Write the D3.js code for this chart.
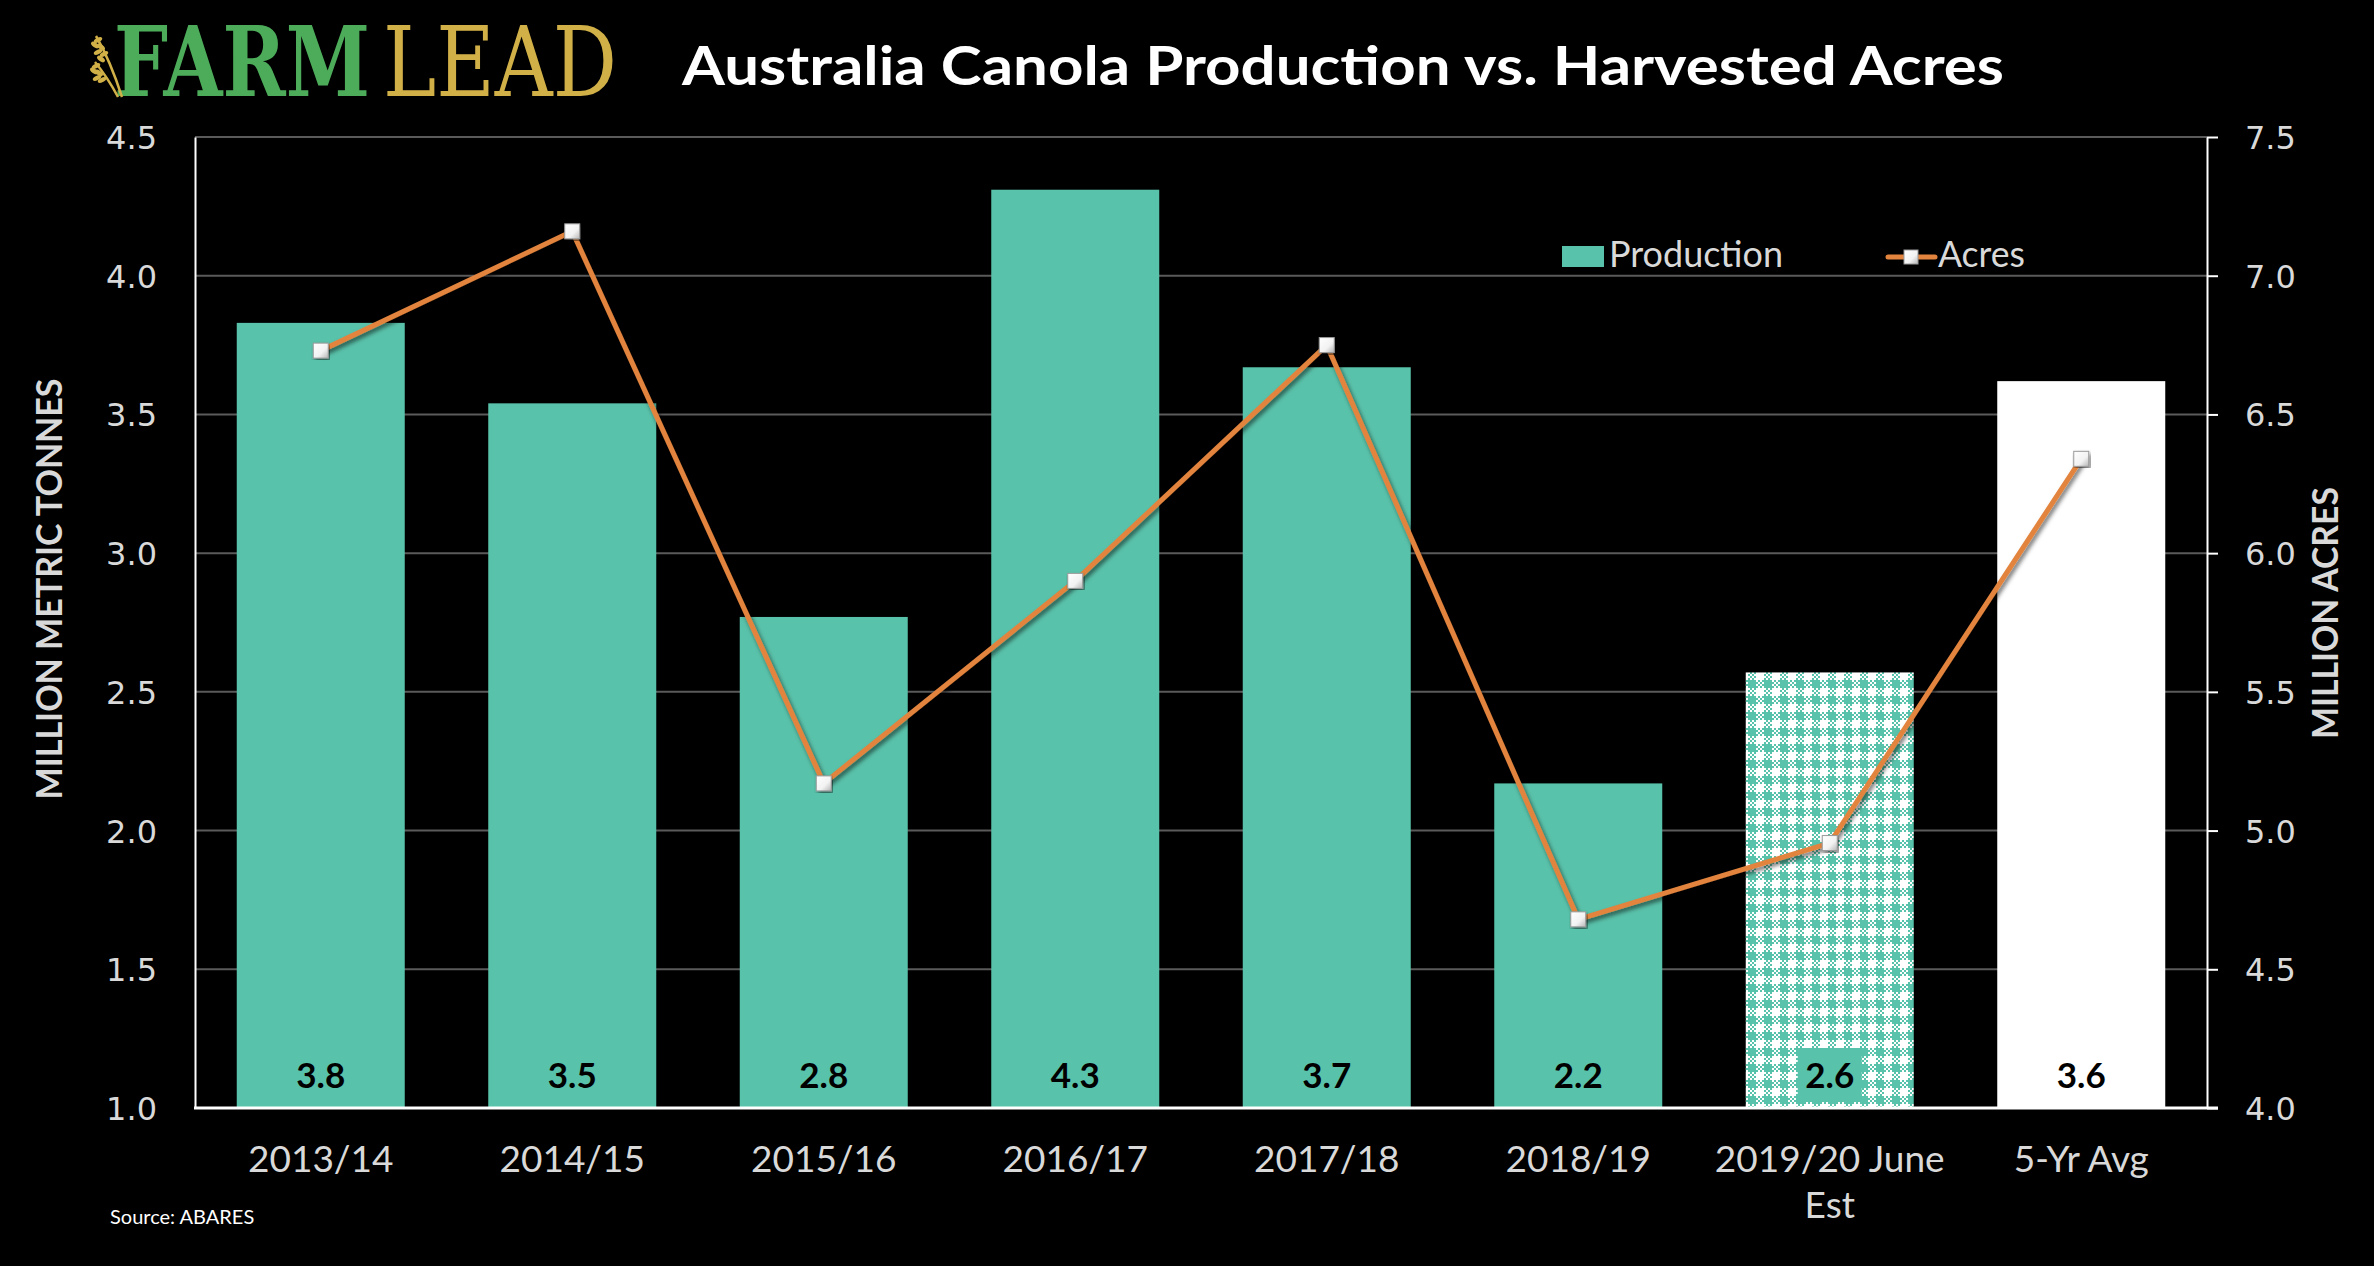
<!DOCTYPE html>
<html>
<head>
<meta charset="utf-8">
<script src="https://cdn.jsdelivr.net/npm/d3@7/dist/d3.min.js"></script>
<style>
  html, body { margin: 0; padding: 0; background: #000; }
  svg { display: block; }
</style>
</head>
<body>
<svg id="chart" width="2374" height="1266"></svg>
<script>
// ---- DATA ----
const categories = ["2013/14", "2014/15", "2015/16", "2016/17", "2017/18", "2018/19", "2019/20 June Est", "5-Yr Avg"];
const production = [3.83, 3.54, 2.77, 4.31, 3.67, 2.17, 2.57, 3.62];
const productionLabels = ["3.8", "3.5", "2.8", "4.3", "3.7", "2.2", "2.6", "3.6"];
const acres = [6.73, 7.16, 5.17, 5.90, 6.75, 4.68, 4.955, 6.34];
const leftTicks = [1.0, 1.5, 2.0, 2.5, 3.0, 3.5, 4.0, 4.5];
const rightTicks = [4.0, 4.5, 5.0, 5.5, 6.0, 6.5, 7.0, 7.5];
const barStyle = ["solid", "solid", "solid", "solid", "solid", "solid", "pattern", "white"];

// ---- LAYOUT ----
const W = 2374, H = 1266;
const pL = 195, pR = 2207, pT = 137, pB = 1108;
const teal = "#59c2aa", orange = "#e2843e", grid = "#5a5a5a", tickCol = "#d9d9d9";

const svg = d3.select("#chart");
svg.append("rect").attr("width", W).attr("height", H).attr("fill", "#000");

const defs = svg.append("defs");
const chk = defs.append("pattern").attr("id", "chk").attr("patternUnits", "userSpaceOnUse")
  .attr("width", 4).attr("height", 4);
chk.append("rect").attr("width", 4).attr("height", 4).attr("fill", "#fff");
chk.append("rect").attr("x", 0).attr("y", 0).attr("width", 2).attr("height", 2).attr("fill", teal);
chk.append("rect").attr("x", 2).attr("y", 2).attr("width", 2).attr("height", 2).attr("fill", teal);
const ging = defs.append("pattern").attr("id", "ging").attr("patternUnits", "userSpaceOnUse")
  .attr("width", 16).attr("height", 16).attr("x", 1746).attr("y", 672);
ging.append("rect").attr("width", 16).attr("height", 16).attr("fill", "#fff");
ging.append("rect").attr("x", 2).attr("y", 0).attr("width", 8).attr("height", 16).attr("fill", "url(#chk)");
ging.append("rect").attr("x", 0).attr("y", 8).attr("width", 16).attr("height", 8).attr("fill", "url(#chk)");
ging.append("rect").attr("x", 2).attr("y", 8).attr("width", 8).attr("height", 8).attr("fill", teal);

const shadow = defs.append("filter").attr("id", "shadow").attr("x", "-10%").attr("y", "-10%")
  .attr("width", "120%").attr("height", "120%");
shadow.append("feDropShadow").attr("dx", 2).attr("dy", 3).attr("stdDeviation", 2)
  .attr("flood-color", "#000").attr("flood-opacity", 0.55);
const mg = defs.append("linearGradient").attr("id", "mgrad").attr("x1", 0).attr("y1", 0).attr("x2", 1).attr("y2", 1);
mg.append("stop").attr("offset", "0%").attr("stop-color", "#ffffff");
mg.append("stop").attr("offset", "60%").attr("stop-color", "#f2f2f2");
mg.append("stop").attr("offset", "100%").attr("stop-color", "#b5b5b5");

// ---- SCALES ----
const x = d3.scaleBand().domain(categories).range([pL, pR]).paddingInner(0.332).paddingOuter(0.166);
const yL = d3.scaleLinear().domain([1.0, 4.5]).range([pB, pT]);
const yR = d3.scaleLinear().domain([4.0, 7.5]).range([pB, pT]);

// ---- GRIDLINES ----
svg.append("g").selectAll("line").data(leftTicks.filter(d => d > 1.0)).join("line")
  .attr("x1", pL).attr("x2", pR)
  .attr("y1", d => yL(d)).attr("y2", d => yL(d))
  .attr("stroke", grid).attr("stroke-width", 2);

// ---- BARS ----
svg.append("g").selectAll("rect").data(categories).join("rect")
  .attr("x", d => x(d)).attr("width", x.bandwidth())
  .attr("y", (d, i) => yL(production[i]))
  .attr("height", (d, i) => pB - yL(production[i]))
  .attr("fill", (d, i) => barStyle[i] === "pattern" ? "url(#ging)" : (barStyle[i] === "white" ? "#fff" : teal));

// ---- DATA LABELS ----
const lblG = svg.append("g");
categories.forEach((c, i) => {
  const cx = x(c) + x.bandwidth() / 2;
  if (barStyle[i] === "pattern") {
    lblG.append("rect").attr("x", cx - 32).attr("y", 1048).attr("width", 64).attr("height", 54).attr("fill", teal);
  }
  lblG.append("text").attr("x", cx).attr("y", 1088)
    .attr("text-anchor", "middle")
    .attr("font-family", "Lato, 'Open Sans', sans-serif").attr("font-weight", 700)
    .attr("font-size", 35).attr("fill", "#000")
    .text(productionLabels[i]);
});

// ---- AXES ----
const axisL = svg.append("g").attr("transform", `translate(${pL},0)`)
  .call(d3.axisLeft(yL).tickValues(leftTicks).tickFormat(d3.format(".1f")).tickSize(0).tickPadding(38));
axisL.select(".domain").attr("stroke", "#fff").attr("stroke-width", 2);
axisL.selectAll("text").attr("font-family", "'DejaVu Sans', Verdana, sans-serif")
  .attr("font-size", 32).attr("fill", tickCol).attr("dy", "0.36em");

const axisR = svg.append("g").attr("transform", `translate(${pR},0)`)
  .call(d3.axisRight(yR).tickValues(rightTicks).tickFormat(d3.format(".1f")).tickSize(11).tickSizeOuter(0).tickPadding(27));
axisR.select(".domain").attr("stroke", "#fff").attr("stroke-width", 2);
axisR.selectAll(".tick line").attr("stroke", "#fff").attr("stroke-width", 2);
axisR.selectAll("text").attr("font-family", "'DejaVu Sans', Verdana, sans-serif")
  .attr("font-size", 32).attr("fill", tickCol).attr("dy", "0.36em");

// bottom baseline
svg.append("line").attr("x1", pL - 1).attr("x2", pR + 11)
  .attr("y1", pB).attr("y2", pB).attr("stroke", "#fff").attr("stroke-width", 3);

const axisB = svg.append("g").attr("transform", `translate(0,${pB})`)
  .call(d3.axisBottom(x).tickSize(0).tickPadding(0));
axisB.select(".domain").remove();
axisB.selectAll("text").each(function(d) {
  const t = d3.select(this);
  t.text(null).attr("y", 0).attr("dy", null)
    .attr("font-family", "Lato, 'Open Sans', sans-serif").attr("font-size", 37).attr("fill", tickCol);
  if (d === "2019/20 June Est") {
    t.append("tspan").attr("x", 0).attr("y", 64).text("2019/20 June");
    t.append("tspan").attr("x", 0).attr("y", 110).text("Est");
  } else {
    t.append("tspan").attr("x", 0).attr("y", 64).text(d);
  }
});

// ---- LINE ----
const line = d3.line().x((d, i) => x(categories[i]) + x.bandwidth() / 2).y(d => yR(d));
svg.append("path").datum(acres).attr("d", line)
  .attr("fill", "none").attr("stroke", orange).attr("stroke-width", 5)
  .attr("stroke-linejoin", "round").attr("filter", "url(#shadow)");
svg.append("g").selectAll("rect").data(acres).join("rect")
  .attr("x", (d, i) => x(categories[i]) + x.bandwidth() / 2 - 7.5)
  .attr("y", d => yR(d) - 7.5)
  .attr("width", 15).attr("height", 15)
  .attr("fill", "url(#mgrad)").attr("stroke", "#9a9a9a").attr("stroke-width", 1)
  .attr("filter", "url(#shadow)");

// ---- AXIS TITLES ----
svg.append("text").attr("transform", "translate(62,589) rotate(-90)")
  .attr("text-anchor", "middle")
  .attr("font-family", "Lato, sans-serif").attr("font-weight", 700).attr("font-size", 37)
  .attr("fill", tickCol).attr("textLength", 421).attr("lengthAdjust", "spacingAndGlyphs")
  .text("MILLION METRIC TONNES");
svg.append("text").attr("transform", "translate(2338,613) rotate(-90)")
  .attr("text-anchor", "middle")
  .attr("font-family", "Lato, sans-serif").attr("font-weight", 700).attr("font-size", 37)
  .attr("fill", tickCol).attr("textLength", 252).attr("lengthAdjust", "spacingAndGlyphs")
  .text("MILLION ACRES");

// ---- LEGEND ----
const leg = svg.append("g");
leg.append("rect").attr("x", 1562).attr("y", 246).attr("width", 42).attr("height", 21).attr("fill", teal);
leg.append("text").attr("x", 1609).attr("y", 267)
  .attr("font-family", "Lato, sans-serif").attr("font-size", 36).attr("fill", tickCol)
  .attr("textLength", 174).attr("lengthAdjust", "spacingAndGlyphs").text("Production");
leg.append("line").attr("x1", 1888).attr("x2", 1935).attr("y1", 257).attr("y2", 257)
  .attr("stroke", orange).attr("stroke-width", 5).attr("stroke-linecap", "round");
leg.append("rect").attr("x", 1904).attr("y", 250).attr("width", 14).attr("height", 14)
  .attr("fill", "url(#mgrad)").attr("stroke", "#9a9a9a").attr("stroke-width", 1);
leg.append("text").attr("x", 1938).attr("y", 267)
  .attr("font-family", "Lato, sans-serif").attr("font-size", 36).attr("fill", tickCol)
  .attr("textLength", 87).attr("lengthAdjust", "spacingAndGlyphs").text("Acres");

// ---- TITLE ----
svg.append("text").attr("x", 682).attr("y", 85)
  .attr("font-family", "Lato, 'Open Sans', sans-serif").attr("font-weight", 700).attr("font-size", 53)
  .attr("fill", "#fff").attr("textLength", 1322).attr("lengthAdjust", "spacingAndGlyphs")
  .text("Australia Canola Production vs. Harvested Acres");

// ---- LOGO ----
const logo = svg.append("g");
function fitWord(word, x0, width, weight, color) {
  const g = logo.append("g");
  const t = g.append("text").attr("x", 0).attr("y", 0)
    .attr("font-family", "'DejaVu Serif', serif").attr("font-weight", weight).attr("font-size", 97)
    .attr("fill", color).text(word);
  const natural = t.node().getComputedTextLength();
  g.attr("transform", `translate(${x0},96) scale(${width / natural},1)`);
}
fitWord("FARM", 114, 256, 700, "#4cac5a");
fitWord("LEAD", 383, 234, 400, "#d1b048");
// wheat stalk
const gold = "#d1b048";
logo.append("path").attr("d", "M96,36 Q110,60 122,97").attr("fill", "none").attr("stroke", gold).attr("stroke-width", 2.5);
logo.append("path").attr("d", "M95,62 Q108,78 118,97").attr("fill", "none").attr("stroke", gold).attr("stroke-width", 2.5);
[[98,40],[101,47],[104,54],[95,45],[98,52],[101,59],[96,66],[99,73],[102,80],[94,71],[97,78]].forEach(([cx, cy], i) => {
  logo.append("ellipse").attr("cx", cx).attr("cy", cy).attr("rx", 4.5).attr("ry", 2.3)
    .attr("transform", `rotate(${i % 2 ? 35 : -25},${cx},${cy})`).attr("fill", gold);
});

// ---- SOURCE ----
svg.append("text").attr("x", 110).attr("y", 1224)
  .attr("font-family", "Lato, sans-serif").attr("font-size", 20).attr("fill", "#fff")
  .text("Source: ABARES");
</script>
</body>
</html>
